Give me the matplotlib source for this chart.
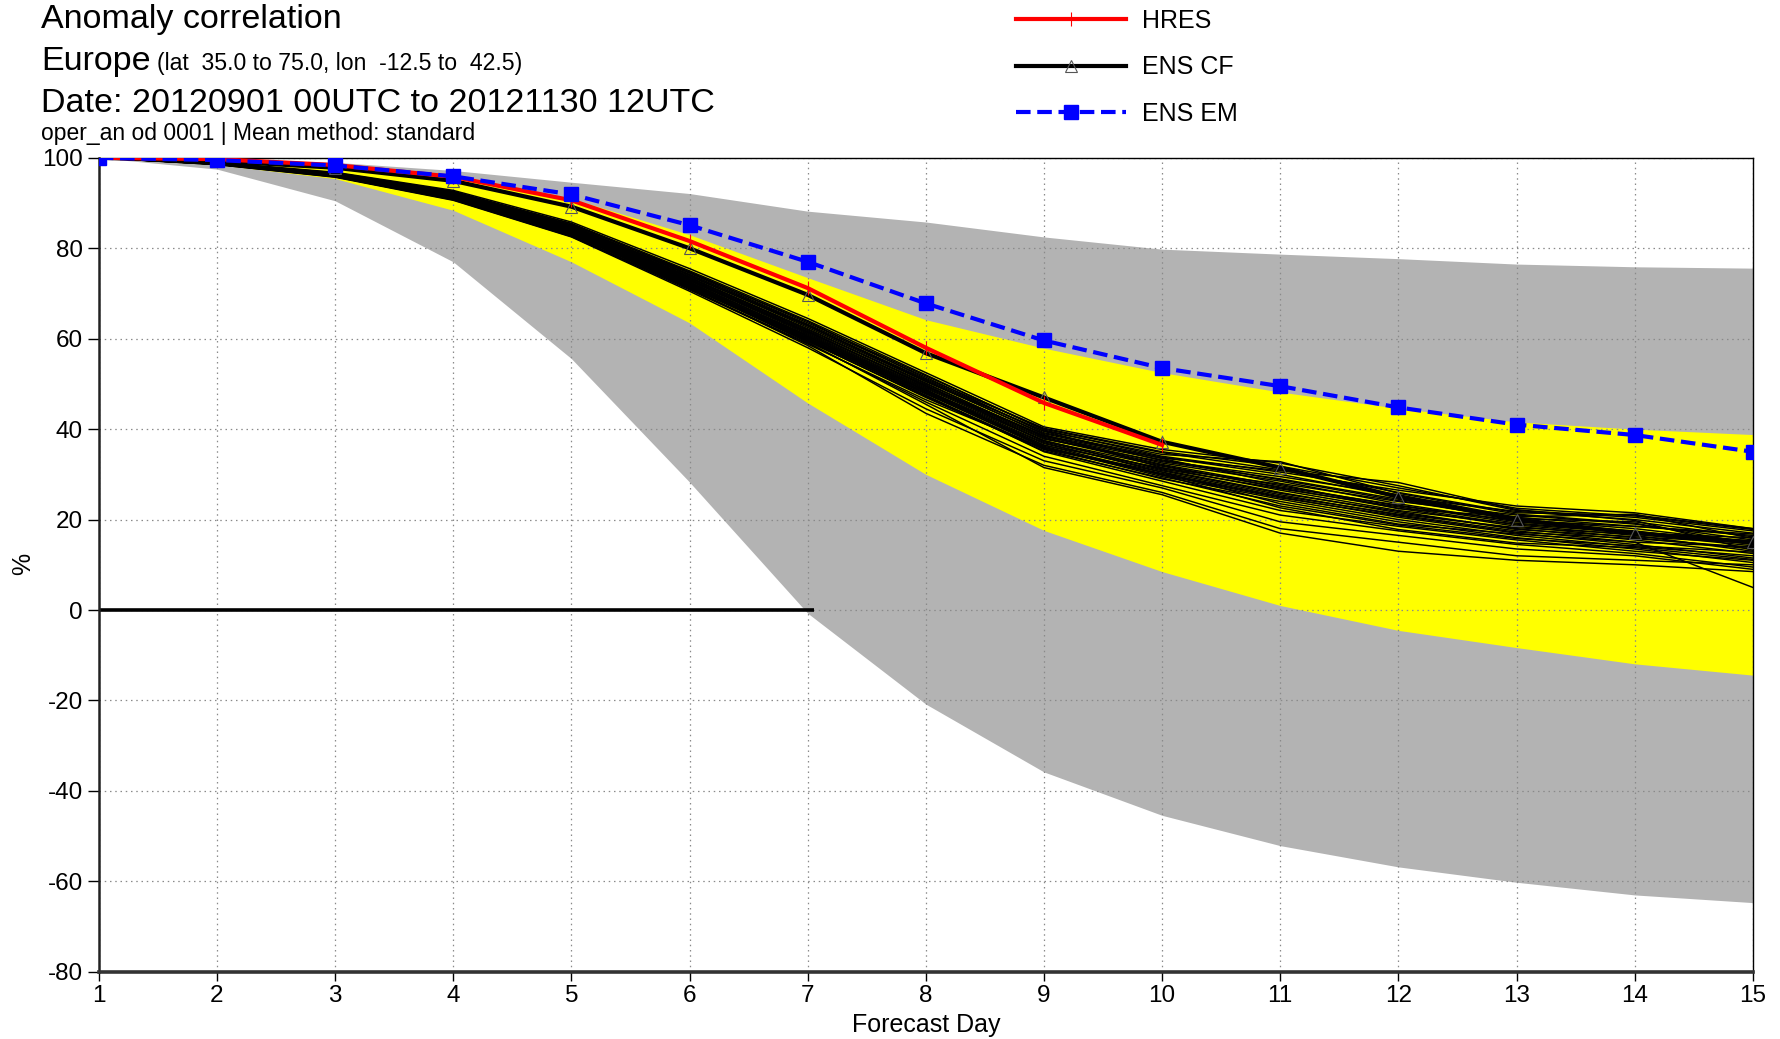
import matplotlib
matplotlib.use("Agg")
import matplotlib.pyplot as plt
import numpy as np

plt.rcParams['font.family'] = ['Liberation Sans', 'DejaVu Sans']
plt.rcParams['axes.unicode_minus'] = False

# ---------------- data ----------------
days = list(range(1, 16))

gray_upper = [100, 99.7, 99.0, 97.2, 94.6, 92.1, 88.2, 85.8, 82.5, 79.8, 78.7, 77.7, 76.5, 75.9, 75.6]
gray_lower = [100, 97.5, 90.5, 77.0, 55.6, 28.3, -0.7, -20.8, -35.8, -45.4, -52.1, -56.8, -60.2, -63.0, -64.7]
yellow_upper = [100, 99.6, 98.3, 95.8, 91.0, 83.0, 73.5, 64.2, 57.9, 52.5, 48.2, 44.6, 41.6, 40.0, 38.8]
yellow_lower = [100, 98.5, 95.4, 88.4, 77.0, 63.5, 45.8, 30.0, 17.6, 8.5, 1.0, -4.5, -8.3, -11.9, -14.4]

hres_days = list(range(1, 11))
hres = [100, 99.7, 98.4, 95.8, 90.6, 81.6, 71.2, 58.0, 45.8, 36.5]
ens_cf = [100, 99.3, 97.8, 94.9, 89.2, 80.0, 69.7, 56.8, 47.0, 37.2, 31.5, 25.0, 20.0, 17.0, 15.0]
ens_em = [100, 99.5, 98.3, 95.9, 91.9, 85.1, 77.0, 67.8, 59.6, 53.5, 49.5, 44.8, 41.0, 38.7, 35.0]

zero_x = [1, 7.05]
zero_y = [0, 0]

members = [
    [100, 99.0, 96.8, 92.8, 85.8, 75.5, 64.5, 52.5, 40.5, 35.5, 32.5, 27.5, 22.0, 20.5, 17.5],
    [100, 98.9, 96.5, 92.3, 85.2, 74.8, 63.5, 51.8, 40.0, 34.8, 31.0, 26.0, 21.5, 21.0, 18.0],
    [100, 98.9, 96.6, 92.5, 85.0, 74.2, 63.0, 51.0, 39.5, 33.0, 29.5, 25.5, 20.5, 18.5, 16.5],
    [100, 98.8, 96.4, 92.0, 84.8, 74.0, 62.5, 50.5, 39.0, 33.5, 28.0, 24.0, 21.0, 19.0, 15.5],
    [100, 98.8, 96.3, 91.8, 84.5, 73.5, 62.0, 50.0, 38.5, 32.5, 28.5, 23.5, 19.5, 17.5, 14.5],
    [100, 98.7, 96.2, 91.6, 84.2, 73.2, 61.5, 49.5, 38.0, 32.0, 27.0, 22.5, 18.5, 16.0, 13.5],
    [100, 98.9, 96.5, 92.1, 84.6, 73.8, 62.8, 50.8, 38.8, 31.5, 26.5, 22.0, 19.0, 17.0, 16.0],
    [100, 98.7, 96.1, 91.4, 83.9, 72.8, 61.0, 49.0, 37.5, 31.0, 26.0, 21.5, 18.0, 15.5, 12.5],
    [100, 98.8, 96.3, 91.7, 84.0, 72.5, 60.5, 48.5, 37.0, 30.5, 25.5, 21.0, 17.5, 15.0, 14.0],
    [100, 98.6, 96.0, 91.2, 83.5, 72.0, 60.0, 48.0, 36.5, 30.0, 25.0, 20.5, 17.0, 14.5, 11.5],
    [100, 98.7, 96.2, 91.5, 83.8, 72.3, 60.8, 48.8, 36.0, 29.5, 24.5, 20.0, 16.5, 14.0, 12.0],
    [100, 98.6, 95.9, 91.0, 83.2, 71.5, 59.5, 47.0, 35.5, 29.0, 24.0, 19.5, 16.0, 13.5, 10.5],
    [100, 98.8, 96.4, 91.9, 84.4, 73.0, 61.2, 49.2, 37.8, 32.8, 29.0, 24.5, 20.0, 18.0, 15.0],
    [100, 98.7, 96.1, 91.3, 83.6, 71.8, 59.8, 47.5, 35.0, 28.5, 22.0, 18.5, 15.5, 13.0, 11.0],
    [100, 98.6, 95.8, 90.8, 82.8, 71.0, 59.0, 46.0, 34.0, 27.5, 21.0, 17.5, 14.5, 12.5, 9.5],
    [100, 98.5, 95.7, 90.6, 82.5, 70.5, 58.0, 44.5, 33.0, 27.0, 19.5, 16.5, 13.5, 12.0, 9.0],
    [100, 98.6, 95.9, 90.9, 82.7, 71.2, 58.5, 43.5, 32.0, 26.0, 18.0, 15.0, 12.0, 11.0, 10.0],
    [100, 98.7, 96.0, 91.1, 83.0, 71.6, 59.2, 45.5, 31.5, 25.5, 17.0, 13.0, 11.0, 10.0, 8.5],
    [100, 98.5, 95.8, 90.7, 82.6, 70.8, 58.8, 46.5, 35.8, 30.5, 23.5, 19.0, 16.8, 15.0, 5.0],
    [100, 98.9, 96.6, 92.4, 85.5, 75.0, 64.0, 52.0, 39.8, 34.0, 30.5, 26.5, 23.0, 21.5, 18.0],
    [100, 98.8, 96.5, 92.2, 84.9, 74.5, 63.2, 51.5, 39.2, 33.8, 30.0, 25.0, 21.8, 20.0, 17.0],
    [100, 98.8, 96.4, 92.0, 84.7, 73.6, 62.2, 50.2, 38.2, 32.2, 27.5, 23.0, 19.8, 18.5, 16.8],
    [100, 98.7, 96.3, 91.8, 84.1, 72.9, 61.4, 49.8, 37.2, 31.2, 26.8, 22.8, 18.8, 16.5, 13.0],
    [100, 98.7, 96.2, 91.6, 83.7, 72.2, 60.2, 48.2, 36.8, 30.8, 25.8, 21.8, 17.8, 16.2, 14.8],
    [100, 98.6, 96.0, 91.3, 83.4, 71.9, 59.6, 47.8, 36.2, 29.8, 24.8, 20.8, 17.2, 15.8, 13.8],
    [100, 98.6, 96.1, 91.4, 83.3, 71.4, 59.4, 47.2, 35.2, 29.2, 23.0, 18.8, 15.8, 14.2, 12.8],
    [100, 98.9, 96.7, 92.6, 85.4, 74.6, 63.8, 51.2, 40.2, 35.0, 31.8, 27.0, 22.5, 20.8, 17.8],
    [100, 98.8, 96.4, 91.9, 84.3, 73.4, 61.8, 49.4, 38.4, 33.2, 28.8, 24.2, 20.2, 19.5, 16.2],
    [100, 98.7, 96.2, 91.5, 83.9, 72.6, 60.6, 48.6, 37.4, 31.8, 27.2, 23.2, 19.2, 17.2, 15.2],
    [100, 98.6, 96.0, 91.2, 83.1, 71.3, 59.9, 47.4, 35.6, 30.2, 25.2, 21.2, 18.2, 16.8, 14.2],
    [100, 98.8, 96.3, 91.7, 84.2, 73.1, 61.6, 49.6, 38.6, 33.6, 30.8, 28.2, 22.2, 19.8, 13.2],
    [100, 98.7, 96.1, 91.4, 83.6, 72.1, 60.4, 48.4, 36.4, 31.4, 27.8, 22.4, 20.6, 21.2, 15.8],
    [100, 98.6, 96.0, 91.1, 83.2, 71.7, 60.1, 47.9, 35.9, 29.9, 22.6, 17.8, 14.8, 13.8, 11.2],
    [100, 98.8, 96.5, 92.2, 85.0, 74.2, 62.9, 50.6, 39.6, 34.4, 32.8, 25.8, 21.2, 19.2, 14.6],
]

y_ticks = list(range(-80, 101, 20))

# ---------------- figure ----------------
W, H = 1780, 1039
fig = plt.figure(figsize=(W / 100, H / 100), dpi=100)
ax = fig.add_axes([98.8 / W, 1 - 971.8 / H, (1752.8 - 98.8) / W, (971.8 - 157.8) / H])

ax.fill_between(days, gray_lower, gray_upper, color='#b3b3b3', lw=0, zorder=1)
ax.fill_between(days, yellow_lower, yellow_upper, color='#ffff00', lw=0, zorder=1.1)

for m in members:
    ax.plot(days, m, color='black', lw=1.05, zorder=2)

ax.plot(zero_x, zero_y, color='black', lw=2.6, zorder=2.2, solid_capstyle='butt')

l_cf, = ax.plot(days, ens_cf, color='black', lw=3.0, marker='^', markersize=8,
                markerfacecolor='none', markeredgecolor='#555555', markeredgewidth=0.8,
                zorder=3, label='ENS CF')
l_hres, = ax.plot(hres_days, hres, color='#ff0000', lw=3.0, marker='|', markersize=10,
                  markeredgewidth=0.8, zorder=3.5, label='HRES')
l_em, = ax.plot(days, ens_em, color='#0000ff', lw=3.0, ls=(0, (3.5, 1.6)), marker='s',
                markersize=10, zorder=4, label='ENS EM')

ax.set_xlim(1, 15)
ax.set_ylim(-80, 100)
ax.set_xticks(days)
ax.set_yticks(y_ticks)
ax.set_axisbelow('line')
ax.grid(True, color='#8a8a8a', ls=(0, (1.2, 3)), lw=0.9)

ax.tick_params(axis='x', direction='out', length=6.5, width=1.0, pad=3, labelsize=17.5)
ax.tick_params(axis='y', direction='out', length=8, width=1.0, pad=3.5, labelsize=17.5)

for s in ['top', 'right']:
    ax.spines[s].set_linewidth(1.0)
ax.spines['left'].set_linewidth(1.8)
ax.spines['left'].set_color('#222222')
ax.spines['bottom'].set_linewidth(2.6)
ax.spines['bottom'].set_color('#333333')

ax.set_xlabel('Forecast Day', fontsize=18)
ax.xaxis.set_label_coords(0.5, -0.051)
ax.set_ylabel('%', fontsize=18)
ax.yaxis.set_label_coords(-0.0386, 0.501)

# ---------------- titles ----------------
def fy(py):
    return 1 - py / H

fig.text(41 / W, fy(28), 'Anomaly correlation', fontsize=24.5, va='baseline', ha='left')
fig.text(41 / W, fy(70), 'Europe', fontsize=24.5, va='baseline', ha='left')
fig.text(157 / W, fy(70), '(lat  35.0 to 75.0, lon  -12.5 to  42.5)', fontsize=16.6,
         va='baseline', ha='left')
fig.text(41 / W, fy(112), 'Date: 20120901 00UTC to 20121130 12UTC', fontsize=24.5,
         va='baseline', ha='left')
fig.text(41 / W, fy(140), 'oper_an od 0001 | Mean method: standard', fontsize=16.5,
         va='baseline', ha='left')

# ---------------- legend ----------------
fig.legend(handles=[l_hres, l_cf, l_em], labels=['HRES', 'ENS CF', 'ENS EM'],
           loc='upper left', bbox_to_anchor=(1016 / W, fy(8.5)), frameon=False,
           fontsize=18, handlelength=4.4, handletextpad=0.65, labelspacing=0.91,
           borderpad=0, borderaxespad=0, markerscale=1.0)

fig.savefig('out.png', dpi=100)
